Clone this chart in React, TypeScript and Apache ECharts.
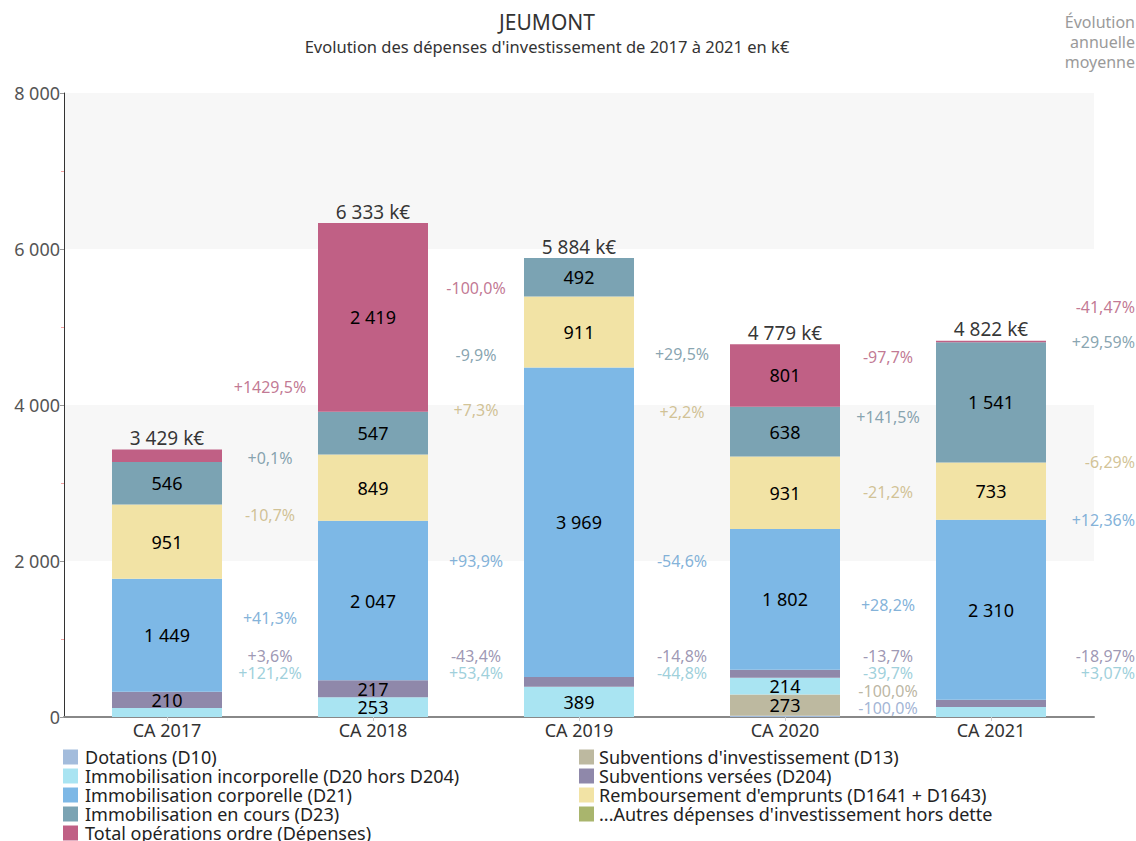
import React, { useEffect, useRef } from "react";
import * as echarts from "echarts";

const categories = ["CA 2017", "CA 2018", "CA 2019", "CA 2020", "CA 2021"];
const yTicks = [0, 2000, 4000, 6000, 8000];

// stacked values, bottom to top (k€)
const dotations = [0, 0, 0, 15, 0];
const subvInvest = [0, 0, 0, 273, 0];
const incorporelle = [114, 253, 389, 214, 129];
const subvVersees = [210, 217, 123, 105, 91];
const corporelle = [1449, 2047, 3969, 1802, 2310];
const remboursement = [951, 849, 911, 931, 733];
const enCours = [546, 547, 492, 638, 1541];
const autres = [0, 0, 0, 0, 0];
const ordre = [158, 2419, 0, 801, 19];
const totals = [3429, 6333, 5884, 4779, 4822];

// year-on-year growth (%) between consecutive years, and average annual growth
const dotationsPct = [null, null, null, -100.0];
const subvInvestPct = [null, null, null, -100.0];
const incorporellePct = [121.2, 53.4, -44.8, -39.7];
const subvVerseesPct = [3.6, -43.4, -14.8, -13.7];
const corporellePct = [41.3, 93.9, -54.6, 28.2];
const remboursementPct = [-10.7, 7.3, 2.2, -21.2];
const enCoursPct = [0.1, -9.9, 29.5, 141.5];
const autresPct = [null, null, null, null];
const ordrePct = [1429.5, -100.0, null, -97.7];
const avgPct = [null, null, 3.07, -18.97, 12.36, -6.29, 29.59, null, -41.47];

const FONT = "'Noto Sans', sans-serif";
const W = 1136;
const H = 841;
const GRID = { left: 64, right: 42, top: 93, bottom: 124 };
const Y_MAX = 8000;

const seriesDefs = [
  { name: "Dotations (D10)", values: dotations, pct: dotationsPct, color: "#a3bcdc", labelColor: "#8aa2ca" },
  { name: "Subventions d'investissement (D13)", values: subvInvest, pct: subvInvestPct, color: "#bdb9a0", labelColor: "#aaa48b" },
  { name: "Immobilisation incorporelle (D20 hors D204)", values: incorporelle, pct: incorporellePct, color: "#a9e4f2", labelColor: "#86c4d2" },
  { name: "Subventions versées (D204)", values: subvVersees, pct: subvVerseesPct, color: "#8f88aa", labelColor: "#857d9f" },
  { name: "Immobilisation corporelle (D21)", values: corporelle, pct: corporellePct, color: "#7db8e6", labelColor: "#639ecf" },
  { name: "Remboursement d'emprunts (D1641 + D1643)", values: remboursement, pct: remboursementPct, color: "#f2e3a5", labelColor: "#c7b47c" },
  { name: "Immobilisation en cours (D23)", values: enCours, pct: enCoursPct, color: "#7ba3b3", labelColor: "#6a8d9c" },
  { name: "...Autres dépenses d'investissement hors dette", values: autres, pct: autresPct, color: "#a9b56d", labelColor: "#8f9a55" },
  { name: "Total opérations ordre (Dépenses)", values: ordre, pct: ordrePct, color: "#c06085", labelColor: "#b25678" },
];

const legendLeft = [
  "Dotations (D10)",
  "Immobilisation incorporelle (D20 hors D204)",
  "Immobilisation corporelle (D21)",
  "Immobilisation en cours (D23)",
  "Total opérations ordre (Dépenses)",
];
const legendRight = [
  "Subventions d'investissement (D13)",
  "Subventions versées (D204)",
  "Remboursement d'emprunts (D1641 + D1643)",
  "...Autres dépenses d'investissement hors dette",
];

const fmtNum = (v: number) => Math.round(v).toString().replace(/\B(?=(\d{3})+(?!\d))/g, " ");
const fmtPct = (p: number, d: number) => (p > 0 ? "+" : "") + p.toFixed(d).replace(".", ",") + "%";

function buildPctLabels() {
  const plotH = H - GRID.top - GRID.bottom;
  const unitsPerPx = Y_MAX / plotH;
  const gap = 17.5 * unitsPerPx;
  const minY = 9 * unitsPerPx;
  const centers: number[][] = [];
  const tops: number[][] = [];
  const base = categories.map(() => 0);
  seriesDefs.forEach((s, si) => {
    centers[si] = [];
    tops[si] = [];
    s.values.forEach((v, j) => {
      centers[si][j] = base[j] + v / 2;
      tops[si][j] = base[j] + v;
      base[j] += v;
    });
  });
  // every series reserves a slot (empty when no rate is shown), then slots are spread apart
  const resolve = (items: any[]) => {
    items.sort((a, b) => a.y - b.y || a.order - b.order);
    let prev = -Infinity;
    items.forEach((it) => {
      let y = Math.max(it.y, minY);
      if (y < prev + gap) y = prev + gap;
      it.y = y;
      prev = y;
    });
    return items.filter((it) => it.text);
  };
  const between: any[] = [];
  for (let j = 0; j < categories.length - 1; j++) {
    const items: any[] = [];
    seriesDefs.forEach((s, si) => {
      const p = s.pct[j];
      const has = p !== null && p !== undefined;
      items.push({ order: si, y: (centers[si][j] + centers[si][j + 1]) / 2, text: has ? fmtPct(p as number, 1) : "", color: s.labelColor });
    });
    resolve(items).forEach((it) => between.push({ value: [j + 0.5, it.y], text: it.text, color: it.color }));
  }
  const avgItems: any[] = [];
  const last = categories.length - 1;
  seriesDefs.forEach((s, si) => {
    const p = avgPct[si];
    const has = p !== null && p !== undefined;
    avgItems.push({ order: si, y: tops[si][last], text: has ? fmtPct(p as number, 2) : "", color: s.labelColor });
  });
  const plotW = W - GRID.left - GRID.right;
  const catW = plotW / categories.length;
  const avgX = last + 0.5 + (GRID.right - 1) / catW;
  const avg = resolve(avgItems).map((it) => ({ value: [avgX, it.y], text: it.text, color: it.color }));
  return { between, avg };
}

export default function App() {
  const ref = useRef<HTMLDivElement>(null);
  useEffect(() => {
    if (!ref.current) return;
    const chart = echarts.init(ref.current, null, { renderer: "svg" });
    const { between, avg } = buildPctLabels();

    const barSeries = seriesDefs.map((s) => ({
      name: s.name,
      type: "bar",
      stack: "total",
      barWidth: 110,
      data: s.values,
      itemStyle: { color: s.color },
      label: {
        show: true,
        position: "inside",
        color: "#000",
        fontSize: 18,
        fontFamily: FONT,
        formatter: (p: any) => (p.value >= 200 ? fmtNum(p.value) : ""),
      },
      emphasis: { disabled: true },
    }));

    const pctSeries = (data: any[], pos: string) => ({
      type: "scatter",
      xAxisIndex: 1,
      yAxisIndex: 0,
      symbolSize: 0,
      clip: false,
      silent: true,
      data: data.map((d) => ({
        value: d.value,
        label: { color: d.color, formatter: d.text },
      })),
      label: {
        show: true,
        position: pos,
        distance: 0,
        fontSize: 16,
        fontFamily: FONT,
      },
    });

    const legendBase = {
      orient: "vertical",
      top: 748,
      height: 200,
      padding: 0,
      itemWidth: 15,
      itemHeight: 15,
      itemGap: 1,
      icon: "rect",
      selectedMode: false,
    };

    chart.setOption({
      animation: false,
      textStyle: { fontFamily: FONT },
      grid: GRID,
      graphic: [
        {
          type: "text",
          x: 547,
          y: 22,
          style: { text: "JEUMONT", fontSize: 21, fill: "#333", fontFamily: FONT, align: "center", verticalAlign: "middle" },
        },
        {
          type: "text",
          x: 547,
          y: 46,
          style: { text: "Evolution des dépenses d'investissement de 2017 à 2021 en k€", fontSize: 16.5, fill: "#333", fontFamily: FONT, align: "center", verticalAlign: "middle" },
        },
        {
          type: "text",
          x: 1135,
          y: 12,
          style: { text: "Évolution\nannuelle\nmoyenne", fontSize: 16, lineHeight: 20, fill: "#9a9a9a", fontFamily: FONT, align: "right", verticalAlign: "top" },
        },
      ],
      legend: [
        {
          ...legendBase,
          data: legendLeft,
          left: 63,
          textStyle: { fontSize: 18, color: "#222", fontFamily: FONT, padding: [0, 0, 0, 2] },
        },
        {
          ...legendBase,
          data: legendRight,
          left: 579,
          textStyle: { fontSize: 18, color: "#222", fontFamily: FONT, padding: [0, 0, 0, 0] },
        },
      ],
      xAxis: [
        {
          type: "category",
          data: categories,
          axisLine: { lineStyle: { color: "#888", width: 2 } },
          axisTick: { show: true, alignWithLabel: true, length: 4, lineStyle: { color: "#ccc" } },
          axisLabel: { color: "#333", fontSize: 18, margin: 4, fontFamily: FONT },
        },
        { type: "value", min: -0.5, max: 4.5, show: false },
      ],
      yAxis: {
        type: "value",
        min: yTicks[0],
        max: yTicks[yTicks.length - 1],
        interval: yTicks[1] - yTicks[0],
        axisLine: { show: true, onZero: false, lineStyle: { color: "#333" } },
        axisTick: { show: true, length: 4, lineStyle: { color: "#999" } },
        minorTick: { show: true, splitNumber: 2, length: 3, lineStyle: { color: "#f4a0a0" } },
        axisLabel: { color: "#555", fontSize: 18, margin: 4, fontFamily: FONT, formatter: (v: number) => fmtNum(v) },
        splitLine: { show: false },
        splitArea: { show: true, areaStyle: { color: ["rgba(255,255,255,0)", "#f7f7f7"] } },
      },
      series: [
        ...barSeries,
        {
          type: "scatter",
          xAxisIndex: 0,
          symbolSize: 0,
          silent: true,
          data: totals,
          label: {
            show: true,
            position: "top",
            distance: 2,
            color: "#000",
            fontSize: 19,
            fontFamily: FONT,
            formatter: (p: any) => fmtNum(p.value) + " k€",
          },
        },
        pctSeries(between, "inside"),
        pctSeries(avg, "left"),
      ],
    });
    return () => chart.dispose();
  }, []);
  return <div ref={ref} style={{ position: "absolute", left: 0, top: 0, width: W, height: H }} />;
}
